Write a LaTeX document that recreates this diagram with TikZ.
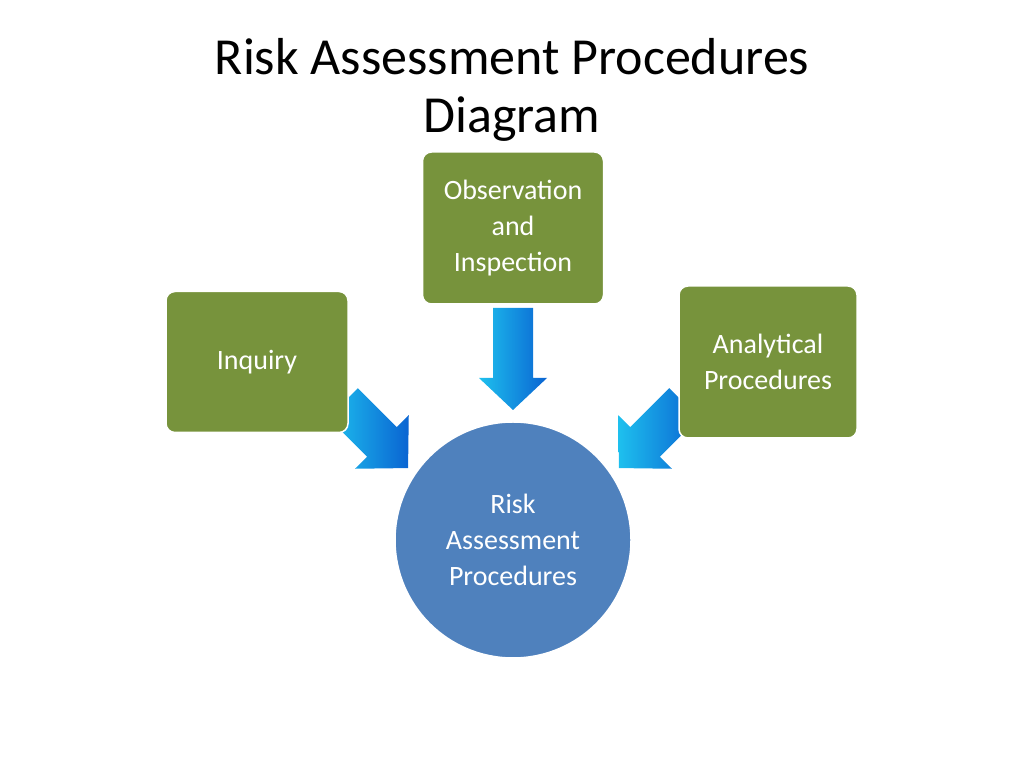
\documentclass[tikz,border=0pt]{standalone}
\usepackage{fontspec}
\setmainfont{Carlito}
\begin{document}
\begin{tikzpicture}[x=1pt,y=1pt,
  box/.style={draw=white,line width=1.5pt,fill=boxgreen,rounded corners=9pt,text=white,align=center,font=\fontsize{28}{36}\selectfont,inner sep=0pt},
  blockarrow/.style={left color=arrcyan,right color=arrblue,draw=none}]
\definecolor{boxgreen}{HTML}{77933C}
\definecolor{circblue}{HTML}{4F81BD}
\definecolor{arrcyan}{HTML}{1EC0EE}
\definecolor{arrblue}{HTML}{0A64D2}
\useasboundingbox (0,0) rectangle (1024,768);
\node[font=\fontsize{52}{58}\selectfont,align=center] (title) at (512,678) {Risk Assessment Procedures\\Diagram};
% arrows
\coordinate (a1) at (513,460);
\coordinate (a2) at (343,365);
\coordinate (a3) at (684,365);
\begin{scope}[shift={(a1)},rotate=-90]
\path[blockarrow] (0,-20) -- (70,-20) -- (70,-34) -- (102,0) -- (70,34) -- (70,20) -- (0,20) -- cycle;
\end{scope}
\begin{scope}[shift={(a2)},rotate=-45]
\path[blockarrow] (0,-21) -- (55,-21) -- (55,-38) -- (92,0) -- (55,38) -- (55,21) -- (0,21) -- cycle;
\end{scope}
\begin{scope}[shift={(a3)},rotate=-135]
\path[blockarrow] (0,-21) -- (55,-21) -- (55,-38) -- (92,0) -- (55,38) -- (55,21) -- (0,21) -- cycle;
\end{scope}
\node[box,minimum width=181pt,minimum height=152pt] (obs) at (513,540) {Observation\\and\\Inspection};
\node[box,minimum width=182pt,minimum height=141pt] (inq) at (257,406) {Inquiry};
\node[box,minimum width=178pt,minimum height=152pt] (ana) at (768,406) {Analytical\\Procedures};
\node[circle,fill=circblue,draw=white,line width=1.5pt,minimum size=236pt,text=white,align=center,font=\fontsize{28}{36}\selectfont] (risk) at (513,228) {Risk\\Assessment\\Procedures};
\end{tikzpicture}
\end{document}
